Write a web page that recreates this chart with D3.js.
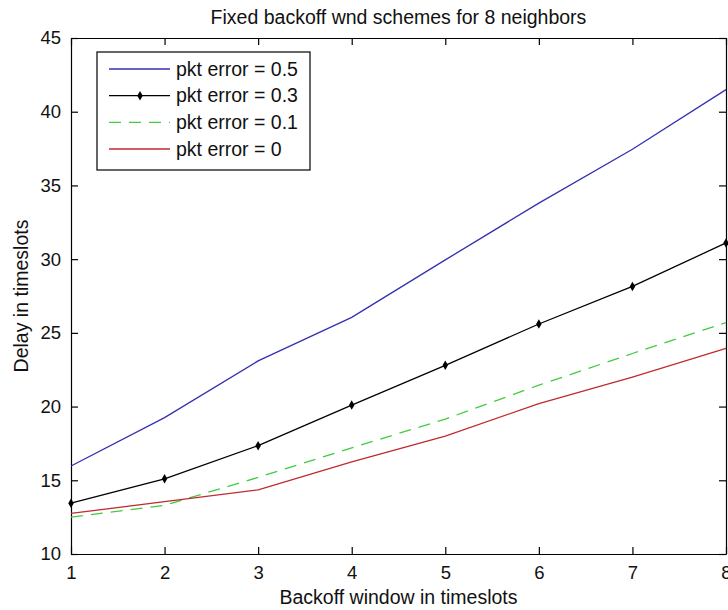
<!DOCTYPE html>
<html>
<head>
<meta charset="utf-8">
<script src="https://cdn.jsdelivr.net/npm/d3@7/dist/d3.min.js"></script>
<style>
  html, body { margin: 0; padding: 0; background: #fff; }
  svg text { font-family: "Liberation Sans", Arial, Helvetica, sans-serif; fill: #111; }
</style>
</head>
<body>
<svg id="chart" width="728" height="610"></svg>
<script>
// Backoff window size (timeslots)
const backoffWindow = [1, 2, 3, 4, 5, 6, 7, 8];

// Mean delay (timeslots) for each packet error rate
const delayErr05 = [15.97, 19.25, 23.1, 26.05, 29.95, 33.8, 37.45, 41.5];
const delayErr03 = [13.45, 15.1, 17.35, 20.1, 22.8, 25.6, 28.15, 31.1];
const delayErr01 = [12.5, 13.3, 15.2, 17.2, 19.15, 21.45, 23.6, 25.7];
const delayErr00 = [12.75, 13.55, 14.35, 16.25, 18.0, 20.2, 22.0, 23.95];

const seriesLabels = ["pkt error = 0.5", "pkt error = 0.3", "pkt error = 0.1", "pkt error = 0"];
const xTicks = [1, 2, 3, 4, 5, 6, 7, 8];
const yTicks = [10, 15, 20, 25, 30, 35, 40, 45];

const chartTitle = "Fixed backoff wnd schemes for 8 neighbors";
const xTitle = "Backoff window in timeslots";
const yTitle = "Delay in timeslots";

const series = [
  { label: seriesLabels[0], values: delayErr05, color: "#3431b0", dash: null, marker: false },
  { label: seriesLabels[1], values: delayErr03, color: "#000000", dash: null, marker: true },
  { label: seriesLabels[2], values: delayErr01, color: "#3fcc3f", dash: "12,8", marker: false },
  { label: seriesLabels[3], values: delayErr00, color: "#c02a30", dash: null, marker: false }
];

const svg = d3.select("#chart");
const plot = { left: 71, right: 726, top: 38, bottom: 554 };

const x = d3.scaleLinear().domain([1, 8]).range([plot.left, plot.right]);
const y = d3.scaleLinear().domain([10, 45]).range([plot.bottom, plot.top]);

// Axes with inward ticks on all four sides (boxed axes)
const tickLen = 7;
const fontSize = 18.5;

const gx = svg.append("g").attr("transform", `translate(0,${plot.bottom})`)
  .call(d3.axisBottom(x).tickValues(xTicks).tickFormat(d3.format("d")).tickSizeInner(-tickLen).tickSizeOuter(0).tickPadding(tickLen + 5));
const gxTop = svg.append("g").attr("transform", `translate(0,${plot.top})`)
  .call(d3.axisTop(x).tickValues(xTicks).tickFormat("").tickSizeInner(-tickLen).tickSizeOuter(0));
const gy = svg.append("g").attr("transform", `translate(${plot.left},0)`)
  .call(d3.axisLeft(y).tickValues(yTicks).tickFormat(d3.format("d")).tickSizeInner(-tickLen).tickSizeOuter(0).tickPadding(tickLen + 3));
const gyRight = svg.append("g").attr("transform", `translate(${plot.right},0)`)
  .call(d3.axisRight(y).tickValues(yTicks).tickFormat("").tickSizeInner(-tickLen).tickSizeOuter(0));

[gx, gxTop, gy, gyRight].forEach(g => {
  g.select(".domain").attr("stroke", "#000").attr("stroke-width", 1.2);
  g.selectAll(".tick line").attr("stroke", "#000").attr("stroke-width", 1.2);
  g.selectAll(".tick text").attr("font-size", fontSize).attr("font-family", null).attr("fill", "#111");
});

// Data lines
const line = d3.line().x((d, i) => x(backoffWindow[i])).y(d => y(d));

series.forEach(s => {
  svg.append("path")
    .datum(s.values)
    .attr("fill", "none")
    .attr("stroke", s.color)
    .attr("stroke-width", 1.3)
    .attr("stroke-dasharray", s.dash)
    .attr("d", line);
  if (s.marker) {
    svg.append("g").selectAll("path")
      .data(s.values)
      .join("path")
      .attr("transform", (d, i) => `translate(${x(backoffWindow[i])},${y(d)})`)
      .attr("d", d3.symbol().type(d3.symbolDiamond).size(26))
      .attr("fill", s.color);
  }
});

// Titles
svg.append("text")
  .attr("x", (plot.left + plot.right) / 2).attr("y", 24)
  .attr("text-anchor", "middle").attr("font-size", 19.5)
  .text(chartTitle);

svg.append("text")
  .attr("x", (plot.left + plot.right) / 2).attr("y", 604)
  .attr("text-anchor", "middle").attr("font-size", 19.5)
  .text(xTitle);

svg.append("text")
  .attr("transform", `translate(28,${(plot.top + plot.bottom) / 2}) rotate(-90)`)
  .attr("text-anchor", "middle").attr("font-size", 19.5)
  .text(yTitle);

// Legend
const legend = svg.append("g").attr("transform", "translate(97,52)");
legend.append("rect")
  .attr("width", 213).attr("height", 118)
  .attr("fill", "#fff").attr("stroke", "#000").attr("stroke-width", 1.2);

const rowY = d3.scalePoint().domain(seriesLabels).range([17, 97]);

series.forEach(s => {
  const ry = rowY(s.label);
  legend.append("line")
    .attr("x1", 12).attr("x2", 73).attr("y1", ry).attr("y2", ry)
    .attr("stroke", s.color).attr("stroke-width", 1.3)
    .attr("stroke-dasharray", s.dash);
  if (s.marker) {
    legend.append("path")
      .attr("transform", `translate(43,${ry})`)
      .attr("d", d3.symbol().type(d3.symbolDiamond).size(26))
      .attr("fill", s.color);
  }
  legend.append("text")
    .attr("x", 79).attr("y", ry).attr("dy", "0.35em")
    .attr("font-size", 19.5)
    .text(s.label);
});
</script>
</body>
</html>
